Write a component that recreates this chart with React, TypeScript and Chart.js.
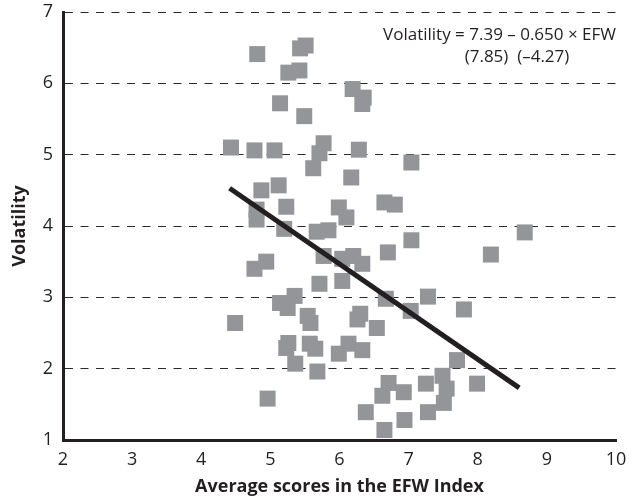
import React, { useEffect, useRef } from "react";
import { Chart, registerables } from "chart.js";

Chart.register(...registerables);

const efwScores: number[] = [
  4.81, 5.51, 5.43, 5.26, 5.42, 5.14, 5.49, 4.43, 4.77, 5.06,
  4.87, 5.12, 5.23, 4.80, 4.80, 5.20, 6.19, 6.35, 6.33, 5.77,
  5.71, 5.62, 6.28, 6.17, 7.04, 5.99, 6.10, 6.65, 6.80, 5.67,
  5.84, 7.04, 5.77, 6.04, 6.20, 6.33, 6.70, 4.94, 4.77, 5.71,
  6.04, 5.35, 5.14, 5.25, 6.67, 4.49, 5.54, 5.58, 6.30, 6.26,
  6.54, 5.26, 5.23, 5.36, 5.57, 5.65, 5.68, 5.99, 6.13, 6.33,
  4.96, 6.38, 6.65, 6.71, 6.62, 6.93, 6.94, 7.25, 7.49, 7.55,
  7.51, 7.28, 7.70, 7.99, 7.03, 7.28, 7.80, 8.19, 8.68,
];
const volatility: number[] = [
  6.41, 6.53, 6.49, 6.15, 6.18, 5.72, 5.54, 5.10, 5.06, 5.06,
  4.50, 4.57, 4.27, 4.23, 4.09, 3.96, 5.92, 5.80, 5.71, 5.16,
  5.02, 4.81, 5.07, 4.68, 4.89, 4.26, 4.12, 4.33, 4.30, 3.92,
  3.94, 3.80, 3.58, 3.54, 3.58, 3.47, 3.63, 3.50, 3.40, 3.19,
  3.23, 3.02, 2.92, 2.85, 2.98, 2.64, 2.74, 2.64, 2.77, 2.69,
  2.57, 2.36, 2.29, 2.07, 2.35, 2.28, 1.96, 2.21, 2.35, 2.26,
  1.58, 1.39, 1.14, 1.80, 1.62, 1.67, 1.28, 1.79, 1.90, 1.72,
  1.52, 1.39, 2.12, 1.79, 2.81, 3.01, 2.83, 3.60, 3.91,
];
const fitX: number[] = [4.41, 8.6];
const fitY: number[] = [4.53, 1.73];

const xTicks: number[] = [2, 3, 4, 5, 6, 7, 8, 9, 10];
const yTicks: number[] = [1, 2, 3, 4, 5, 6, 7];

const equationLine1 = "Volatility = 7.39 \u2013 0.650 \u00d7 EFW";
const equationLine2 = "(7.85)  (\u20134.27)";
const xTitle = "Average scores in the EFW Index";
const yTitle = "Volatility";

const FONT = "'Open Sans', 'Noto Sans', sans-serif";
const INK = "#231f20";
const GRAY = "#939598";

const annotationPlugin = {
  id: "equationAnnotation",
  afterDraw(chart: any) {
    const { ctx, chartArea } = chart;
    ctx.save();
    ctx.fillStyle = INK;
    ctx.font = `17px ${FONT}`;
    ctx.textBaseline = "alphabetic";
    ctx.textAlign = "right";
    ctx.fillText(equationLine1, chartArea.right, chartArea.top + 28);
    ctx.textAlign = "center";
    ctx.fillText(equationLine2, chartArea.right - 99, chartArea.top + 50);
    ctx.restore();
  },
};

export default function App() {
  const ref = useRef<HTMLCanvasElement | null>(null);

  useEffect(() => {
    if (!ref.current) return;
    const points = efwScores.map((x, i) => ({ x, y: volatility[i] }));
    const fit = fitX.map((x, i) => ({ x, y: fitY[i] }));
    const chart = new Chart(ref.current, {
      type: "scatter",
      data: {
        datasets: [
          {
            label: "Countries",
            data: points,
            pointStyle: "rect",
            pointRadius: 11.3,
            pointHoverRadius: 11.3,
            backgroundColor: GRAY,
            borderWidth: 0,
            order: 2,
          },
          {
            label: "Fit",
            data: fit,
            showLine: true,
            pointRadius: 0,
            borderColor: INK,
            borderWidth: 5,
            borderCapStyle: "butt",
            order: 1,
          } as any,
        ],
      },
      options: {
        animation: false,
        responsive: false,
        maintainAspectRatio: false,
        layout: { padding: { top: 12, right: 22, left: 0, bottom: 0 } },
        plugins: {
          legend: { display: false },
          tooltip: { enabled: false },
        },
        scales: {
          x: {
            type: "linear",
            min: 2,
            max: 10,
            afterBuildTicks: (s: any) => {
              s.ticks = xTicks.map((v) => ({ value: v }));
            },
            afterFit: (s: any) => {
              s.height = 60;
              s.paddingLeft = 0;
              s.paddingRight = 0;
            },
            grid: { display: false, drawTicks: false },
            border: { display: true, color: INK, width: 3 },
            ticks: {
              color: INK,
              padding: 9,
              font: { family: FONT, size: 18 },
              maxRotation: 0,
            },
            title: {
              display: true,
              text: xTitle,
              color: INK,
              font: { family: FONT, size: 18, weight: "bold" },
              padding: { top: 0, bottom: 2 },
            },
          },
          y: {
            type: "linear",
            min: 1,
            max: 7,
            afterBuildTicks: (s: any) => {
              s.ticks = yTicks.map((v) => ({ value: v }));
            },
            afterFit: (s: any) => {
              s.width = 63;
              s.paddingTop = 0;
              s.paddingBottom = 0;
            },
            grid: {
              display: true,
              drawTicks: false,
              color: "#2a2a2a",
              lineWidth: 1,
            },
            border: { display: true, color: INK, width: 3, dash: [8, 7.5] },
            ticks: {
              color: INK,
              padding: 10,
              font: { family: FONT, size: 18 },
            },
            title: {
              display: true,
              text: yTitle,
              color: INK,
              font: { family: FONT, size: 18, weight: "bold" },
              padding: { top: 9, bottom: 0 },
            },
          },
        },
      },
      plugins: [annotationPlugin],
    });
    return () => chart.destroy();
  }, []);

  return (
    <div style={{ position: "fixed", left: 0, top: 0, width: 638, height: 500, background: "#fff" }}>
      <canvas ref={ref} width={638} height={500} style={{ width: 638, height: 500 }} />
    </div>
  );
}
